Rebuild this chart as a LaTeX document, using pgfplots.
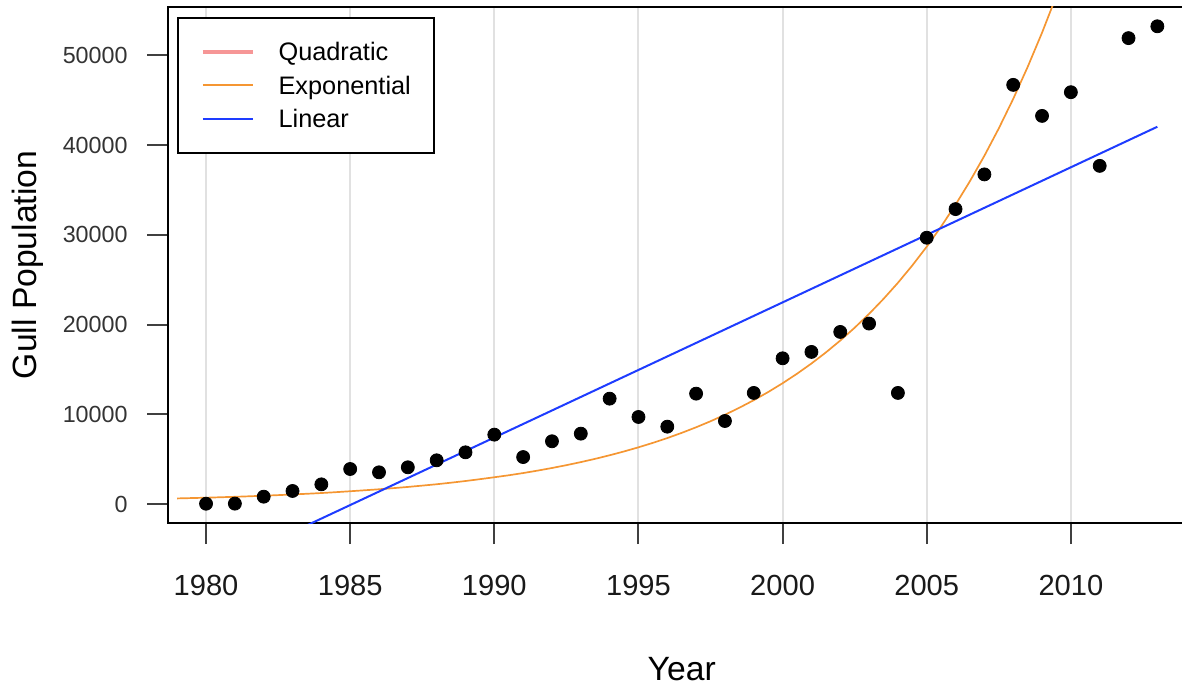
\documentclass[border=0pt]{standalone}
\usepackage{fontspec}
\setmainfont{Liberation Sans}
\usepackage{pgfplots}
\pgfplotsset{compat=1.18}
\definecolor{quadc}{RGB}{246,150,150}
\definecolor{expc}{RGB}{245,150,50}
\definecolor{linc}{RGB}{30,60,255}
\definecolor{gridc}{RGB}{225,225,225}
\begin{document}
\begin{tikzpicture}
\begin{axis}[
  at={(0,0)}, anchor=south west,
  scale only axis, width=513.7bp, height=258bp,
  xmin=1978.68, xmax=2014.32, ymin=-2120, ymax=55400,
  axis line style={line width=1bp, black},
  xtick={1980,1985,...,2010},
  ytick={0,10000,...,50000},
  scaled y ticks=false,
  /pgf/number format/assume math mode=true,
  /pgf/number format/1000 sep={},
  xticklabel style={font=\fontsize{14.6}{17}\selectfont, text=black!90, anchor=north, inner sep=0pt, yshift=-15.5bp},
  yticklabel style={font=\fontsize{11.7}{14}\selectfont, text=black!80, anchor=east, inner sep=0pt, xshift=-9.5bp},
  tick align=outside, major tick length=10.5bp,
  tick style={line width=1bp, black!75},
  xtick pos=bottom, ytick pos=left,
  xmajorgrids, major x grid style={gridc, line width=1bp},
  every axis x label/.style={at={([yshift=-78.5bp]rel axis cs:0.5,0)}, anchor=base, font=\fontsize{16.9}{20}\selectfont},
  every axis y label/.style={at={([xshift=-65.5bp]rel axis cs:0,0.5)}, rotate=90, anchor=base, font=\fontsize{16.9}{20}\selectfont},
  xlabel={Year}, ylabel={Gull Population},
  legend style={at={([xshift=4.5bp,yshift=-5bp]rel axis cs:0,1)}, anchor=north west,
    draw=black, line width=1bp, fill=white, inner xsep=11.5bp, inner ysep=8.6bp,
    font=\fontsize{12.7}{15}\selectfont,
    nodes={inner sep=0pt, text height=12.9bp, text depth=3.85bp},
    /tikz/column sep=12bp, /tikz/row sep=0pt},
  legend cell align=left,
  legend image code/.code={\draw[#1] (0bp,0bp) -- (25bp,0bp);},
]
\addplot[only marks, mark=*, mark size=3.25bp, black, forget plot] coordinates {
(1980,30) (1981,40) (1982,815) (1983,1450) (1984,2190) (1985,3900)
(1986,3530) (1987,4090) (1988,4870) (1989,5760) (1990,7730) (1991,5230)
(1992,6990) (1993,7840) (1994,11740) (1995,9700) (1996,8620) (1997,12300)
(1998,9250) (1999,12380) (2000,16240) (2001,16950) (2002,19180) (2003,20110)
(2004,12380) (2005,29680) (2006,32870) (2007,36740) (2008,46720) (2009,43260)
(2010,45900) (2011,37690) (2012,51930) (2013,53250)
};
\addplot[draw=expc, line width=0.85bp, forget plot] coordinates {
(1979,620) (1979.5,660) (1980,700) (1980.5,750) (1981,800) (1981.5,858)
(1982,920) (1982.5,988) (1983,1060) (1983.5,1138) (1984,1220) (1984.5,1316)
(1985,1420) (1985.5,1528) (1986,1640) (1986.5,1767) (1987,1900) (1987.5,2048)
(1988,2200) (1988.5,2375) (1989,2560) (1989.5,2765) (1990,2980) (1990.5,3200)
(1991,3448) (1991.5,3719) (1992,4012) (1992.5,4327) (1993,4668) (1993.5,5035)
(1994,5430) (1994.5,5857) (1995,6317) (1995.5,6813) (1996,7349) (1996.5,7927)
(1997,8550) (1997.5,9222) (1998,9946) (1998.5,10728) (1999,11570) (1999.5,12479)
(2000,13460) (2000.5,14518) (2001,15658) (2001.5,16889) (2002,18217) (2002.5,19649)
(2003,21192) (2003.5,22858) (2004,24654) (2004.5,26592) (2005,28681) (2005.5,30930)
(2006,33366) (2006.5,35990) (2007,38816) (2007.5,41870) (2008,45157) (2008.5,48710)
(2009,52534) (2009.5,56660) (2010,61115)
};
\addplot[draw=linc, line width=1bp, forget plot] coordinates {(1980,-7650) (2013,42050)};
\addlegendimage{draw=quadc, line width=1.8bp}
\addlegendentry{Quadratic}
\addlegendimage{draw=expc, line width=1bp}
\addlegendentry{Exponential}
\addlegendimage{draw=linc, line width=1bp}
\addlegendentry{Linear}
\end{axis}
\pgfresetboundingbox
\path[use as bounding box] (-84bp,-80.5bp) rectangle (507bp,261.5bp);
\end{tikzpicture}
\end{document}
